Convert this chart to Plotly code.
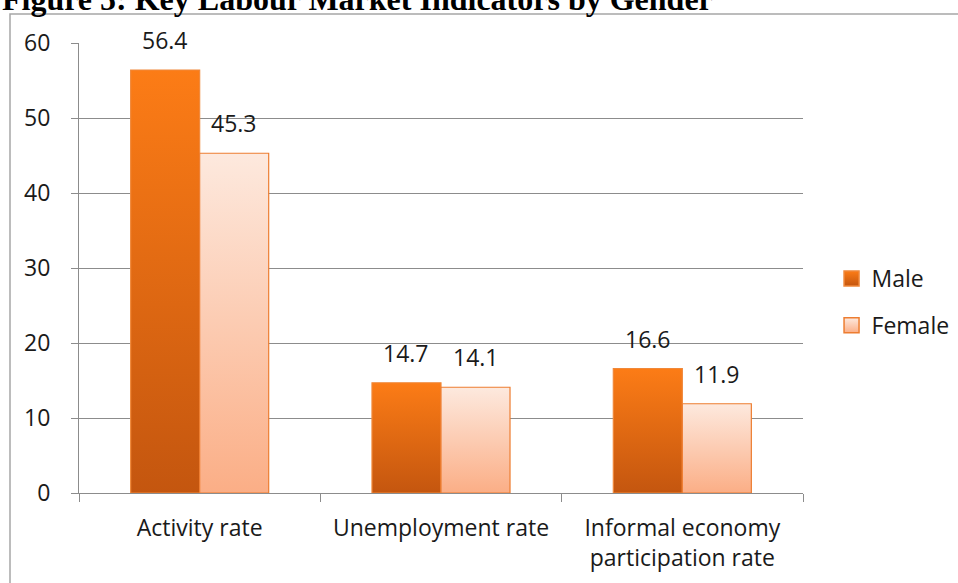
import plotly.graph_objects as go

categories = ["Activity rate", "Unemployment rate", "Informal economy<br>participation rate"]
male = [56.4, 14.7, 16.6]
female = [45.3, 14.1, 11.9]
y_ticks = [0, 10, 20, 30, 40, 50, 60]

BAR_W = 0.286
FONT = "Open Sans"
TXT = "#1a1a1a"

series = [
    dict(name="Male", values=male, side=-1,
         top="#FC7C16", bottom="#C4560F", edge="#F0883A"),
    dict(name="Female", values=female, side=1,
         top="#FDE9DE", bottom="#FBAE86", edge="#ED7D31"),
]

fig = go.Figure()

for s in series:
    for i, v in enumerate(s["values"]):
        x0, x1 = (i - BAR_W, i) if s["side"] < 0 else (i, i + BAR_W)
        fig.add_trace(go.Scatter(
            x=[x0, x0, x1, x1, x0], y=[0, v, v, 0, 0],
            mode="lines", fill="toself",
            fillgradient=dict(type="vertical",
                              colorscale=[[0, s["bottom"]], [1, s["top"]]]),
            line=dict(color=s["edge"], width=1.2),
            hoverinfo="skip", showlegend=False,
        ))
        fig.add_annotation(
            x=(x0 + x1) / 2, y=v, text=f"{v}", showarrow=False,
            yanchor="bottom", yshift=12,
            font=dict(family=FONT, size=23, color=TXT),
        )
    # legend entry
    fig.add_trace(go.Scatter(
        x=[None], y=[None], mode="markers", name=s["name"],
        legendgroup=s["name"],
        marker=dict(symbol="square", size=15, color=s["top"],
                    gradient=dict(type="vertical", color=s["bottom"]),
                    line=dict(color=s["edge"], width=1.5)),
    ))

fig.update_layout(
    width=958, height=583,
    margin=dict(l=0, r=0, t=0, b=0, autoexpand=False),
    paper_bgcolor="white", plot_bgcolor="white",
    font=dict(family=FONT, size=23, color=TXT),
    xaxis=dict(
        domain=[79 / 958, 803 / 958], range=[-0.5, 2.5], automargin=False,
        tickvals=[0, 1, 2], ticktext=categories, ticks="",
        showgrid=False, showline=True, linecolor="#8c8c8c", linewidth=1,
        zeroline=False, ticklabelstandoff=14,
        minor=dict(tickvals=[-0.5, 0.5, 1.5, 2.5], ticks="outside",
                   ticklen=8, tickcolor="#8c8c8c", showgrid=False),
    ),
    yaxis=dict(
        domain=[90 / 583, 540 / 583], range=[0, 60], automargin=False,
        tickvals=y_ticks, ticks="outside", ticklen=7, tickcolor="#8c8c8c",
        showgrid=True, gridcolor="#8c8c8c", gridwidth=1,
        showline=True, linecolor="#8c8c8c", linewidth=1, zeroline=False,
        ticklabelstandoff=16,
    ),
    legend=dict(x=0.868, y=1 - 302 / 583, xanchor="left", yanchor="middle",
                traceorder="grouped", tracegroupgap=14, itemwidth=30,
                font=dict(family=FONT, size=23, color=TXT),
                bgcolor="rgba(0,0,0,0)"),
    showlegend=True,
)

# outer frame of the figure
fig.add_shape(type="rect", xref="paper", yref="paper",
              x0=10 / 958, x1=1.01, y0=-0.01, y1=1 - 14 / 583,
              line=dict(color="#a6a6a6", width=1.5), layer="below")

fig.add_annotation(
    xref="paper", yref="paper", x=0, y=1 - 19 / 583,
    xanchor="left", yanchor="bottom", showarrow=False,
    text="<b>Figure 5: Key Labour Market Indicators by Gender</b>",
    font=dict(family="Liberation Serif", size=32, color="black"),
)

fig.write_html("out.html")
